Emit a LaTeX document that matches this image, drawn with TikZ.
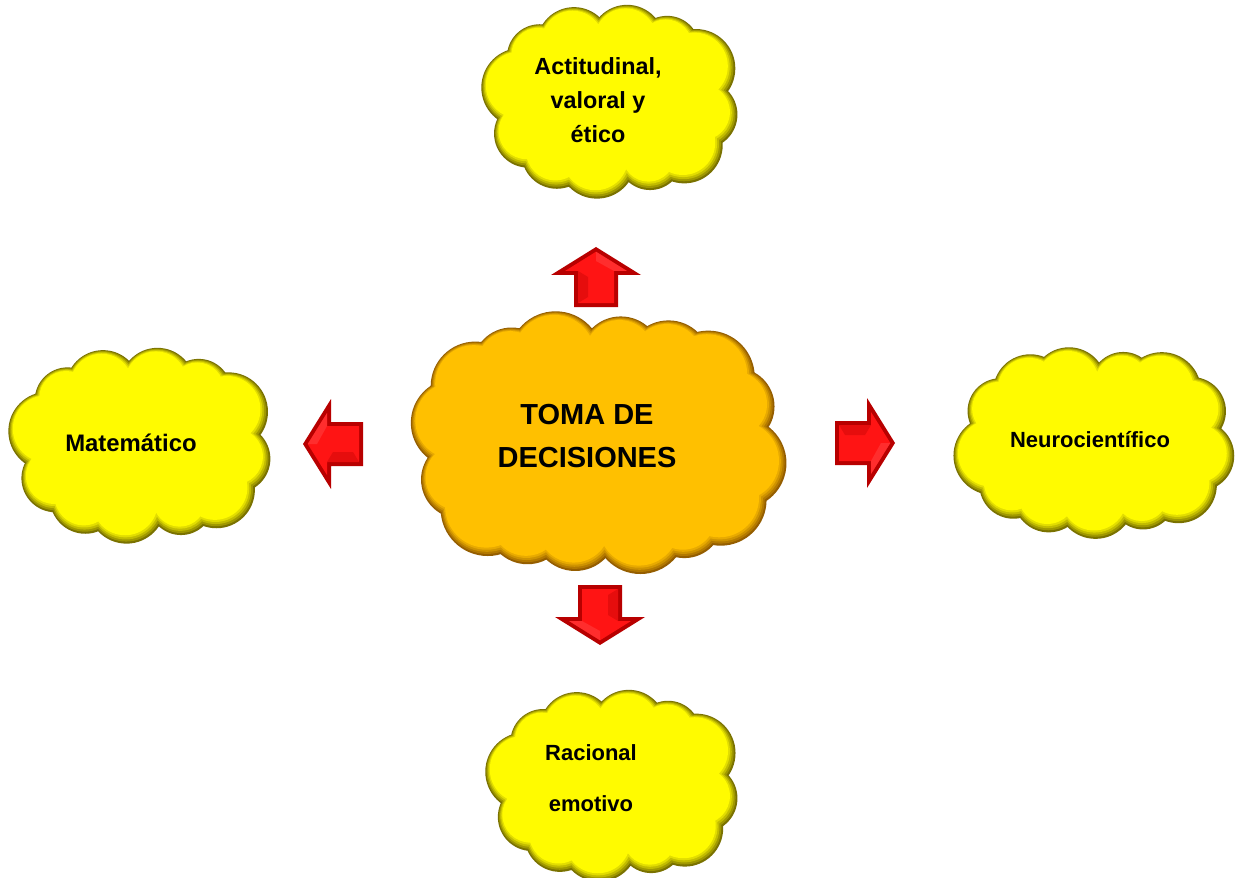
\documentclass[tikz,border=0pt]{standalone}
\usepackage{fontspec}
\setmainfont{Liberation Sans}

\definecolor{lemon}{HTML}{FFFB00}
\definecolor{lemonrim}{HTML}{7A7200}
\definecolor{gold}{HTML}{FFC000}
\definecolor{goldrim}{HTML}{955E00}
\definecolor{arrowred}{HTML}{FF1414}
\definecolor{arrowdark}{HTML}{B80000}

\tikzset{
  label text/.style={font=\bfseries, align=center, text=black},
  pics/redarrow/.style={code={
    % block arrow pointing along +x, tip at the origin
    \fill[arrowdark] (0,0) -- (-28,45) -- (-28,22) -- (-60,22) -- (-60,-22)
      -- (-28,-22) -- (-28,-45) -- cycle;
    \fill[arrowred] (-4.7,0) -- (-24,31) -- (-24,18) -- (-56,18) -- (-56,-18)
      -- (-24,-18) -- (-24,-31) -- cycle;
    \fill[red!70!white, opacity=0.45] (-4.7,0) -- (-24,31) -- (-24,18) -- (-14,0) -- cycle;
    \fill[arrowdark, opacity=0.35] (-56,-18) -- (-24,-18) -- (-30,-8) -- (-50,-8) -- cycle;
  }}
}

% Puffy cloud built from overlapping discs on a rounded-rectangle track.
% Each layer shrinks the discs a little and moves up-left, which gives a bevelled rim.
% #1 centre x, #2 centre y, #3 half width of track, #4 half height of track,
% #5 number of puffs, #6 puff radius, #7 fill colour, #8 rim colour, #9 coordinate name
\newcommand\puffcloud[9]{%
  \coordinate (#9) at (#1,#2);
  \foreach \d/\tint in {0/100,1.5/72,3/46,4.5/22,6/0} {
    \fill[#8!\tint!#7, shift={(-0.25*\d,-0.4*\d)}]
      \foreach \i [evaluate=\i as \t using
          {360*\i/#5+7+28.65*(#3-#4)/(#3+#4)*sin(2*(360*\i/#5+7))}] in {1,...,#5} {
        ({#1+#3*cos(\t)*abs(cos(\t))^(-0.23)}, {#2+#4*sin(\t)*abs(sin(\t))^(-0.23)})
          circle[radius={#6*(1+0.1*sin(137.5*\i))-\d}]
      }
      (#1,#2) ellipse[x radius=#3, y radius=#4];
  }
}

\begin{document}
\begin{tikzpicture}[x=0.02cm, y=-0.02cm]
  \useasboundingbox[fill=white] (0,0) rectangle (1236,878);

  % clouds
  \puffcloud{598}{443}{144}{86}{16}{43}{gold}{goldrim}{centerCloud}
  \puffcloud{612}{101}{92}{59}{12}{36}{lemon}{lemonrim}{topCloud}
  \puffcloud{142}{445}{95}{60}{12}{36}{lemon}{lemonrim}{leftCloud}
  \puffcloud{1096}{442}{104}{58}{13}{36}{lemon}{lemonrim}{rightCloud}
  \puffcloud{614}{785}{90}{58}{12}{36}{lemon}{lemonrim}{bottomCloud}

  % labels
  \node[label text, font=\bfseries\fontsize{16.5}{24.4}\selectfont] (centerText) at (587,436)
    {TOMA DE\\DECISIONES};
  \node[label text, font=\bfseries\fontsize{13.3}{19.5}\selectfont] (topText) at (598,100)
    {Actitudinal,\\valoral y\\ético};
  \node[label text, font=\bfseries\fontsize{13.6}{16}\selectfont] (leftText) at (131,443)
    {Matemático};
  \node[label text, font=\bfseries\fontsize{12.5}{15}\selectfont] (rightText) at (1090,440)
    {Neurocientífico};
  \node[label text, font=\bfseries\fontsize{12.5}{29}\selectfont] (bottomText) at (591,778)
    {Racional\\emotivo};

  % arrows radiating from the central cloud
  \coordinate (upTip) at (596,247);
  \coordinate (downTip) at (600,645);
  \coordinate (leftTip) at (303,444);
  \coordinate (rightTip) at (895,443);
  \pic[rotate=90] at (upTip) {redarrow};
  \pic[rotate=-90] at (downTip) {redarrow};
  \pic[rotate=180] at (leftTip) {redarrow};
  \pic at (rightTip) {redarrow};
\end{tikzpicture}
\end{document}
